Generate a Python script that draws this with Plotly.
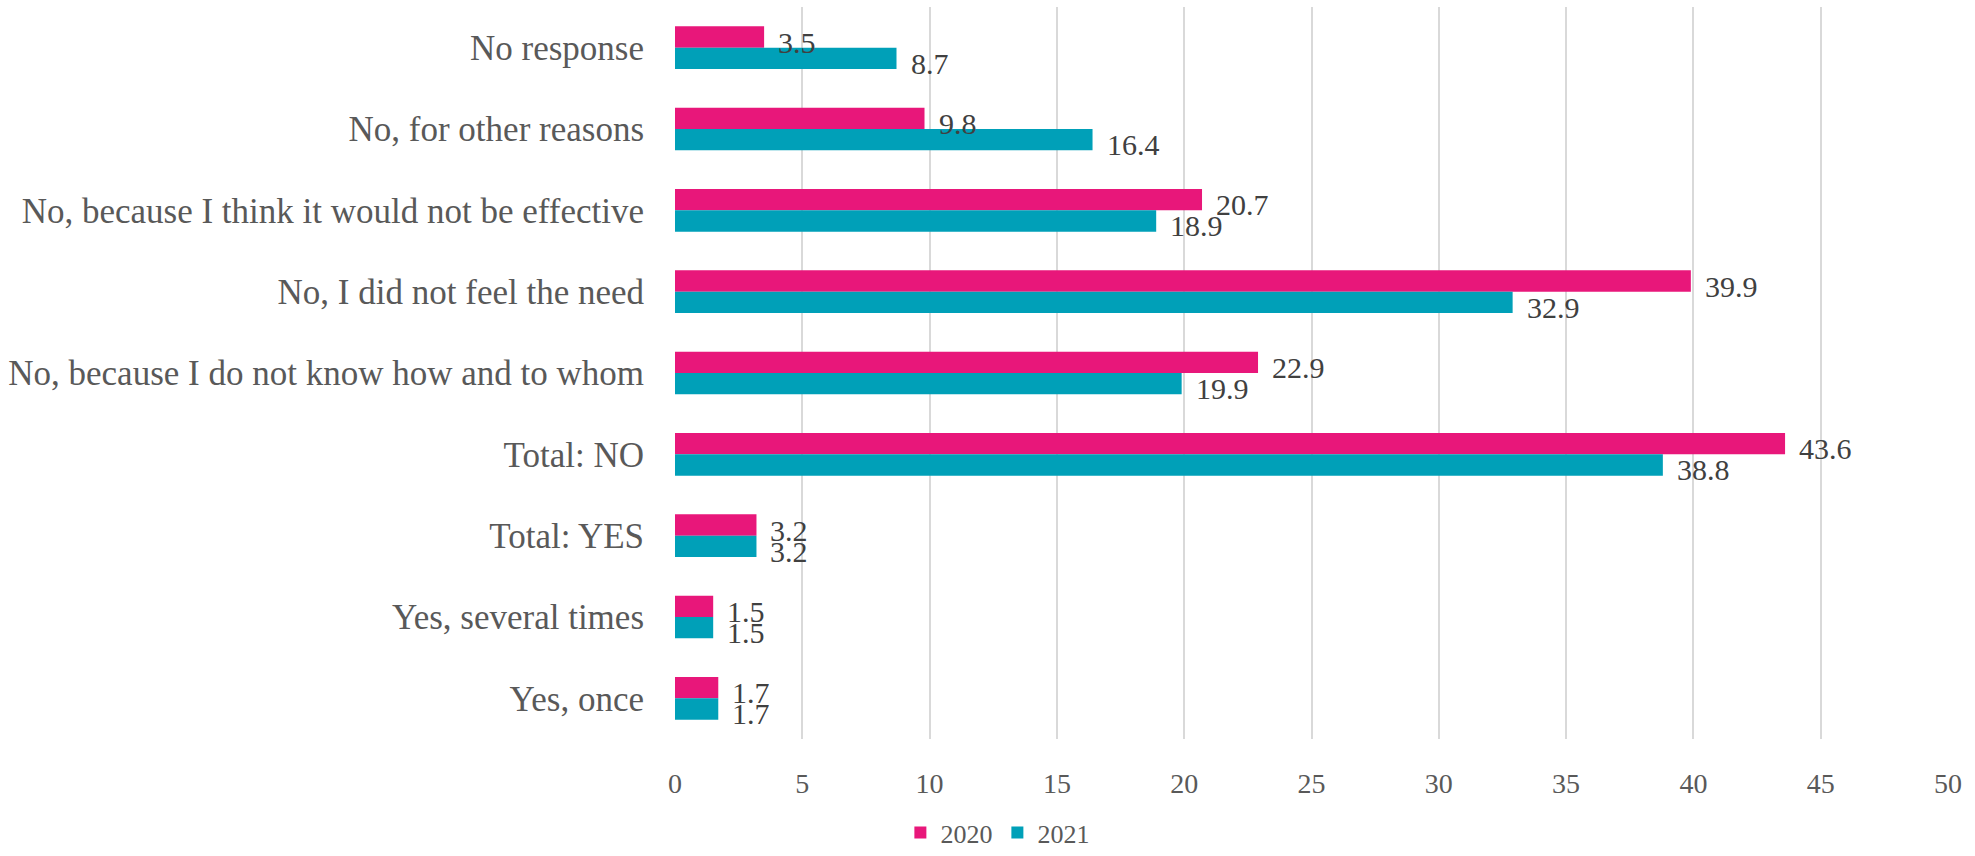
import plotly.graph_objects as go

# Survey answers, listed top to bottom as drawn
categories = [
    "No response",
    "No, for other reasons",
    "No, because I think it would not be effective",
    "No, I did not feel the need",
    "No, because I do not know how and to whom",
    "Total: NO",
    "Total: YES",
    "Yes, several times",
    "Yes, once",
]
values_2020 = [3.5, 9.8, 20.7, 39.9, 22.9, 43.6, 3.2, 1.5, 1.7]
values_2021 = [8.7, 16.4, 18.9, 32.9, 19.9, 38.8, 3.2, 1.5, 1.7]
series_names = ["2020", "2021"]
x_ticks = [0, 5, 10, 15, 20, 25, 30, 35, 40, 45, 50]

PINK = "#E8177A"
TEAL = "#00A0B8"
GRID = "#D9D9D9"
LABEL = "#595959"
VALUE = "#404040"
FONT = "Liberation Serif"

fig = go.Figure()
for name, vals, color in [(series_names[0], values_2020, PINK),
                          (series_names[1], values_2021, TEAL)]:
    fig.add_trace(go.Bar(
        name=name, y=categories, x=vals, orientation="h",
        marker=dict(color=color, line=dict(width=0)),
    ))

# value labels just past the end of each bar
BAR_PX = 21.3
for vals, dy in [(values_2020, BAR_PX / 2 - 5), (values_2021, -BAR_PX / 2 - 5)]:
    for cat, v in zip(categories, vals):
        fig.add_annotation(
            x=v, y=cat, text=f"{v:.1f}", showarrow=False,
            xanchor="left", yanchor="middle", xshift=12, yshift=dy,
            font=dict(family=FONT, size=30, color=VALUE),
        )

fig.update_layout(
    width=1975, height=856,
    margin=dict(l=675, r=27, t=7, b=117),
    paper_bgcolor="white", plot_bgcolor="white",
    barmode="group", bargap=0.476, bargroupgap=0,
    font=dict(family=FONT, color=LABEL),
    showlegend=True,
    legend=dict(
        orientation="h", xref="container", yref="container",
        x=0.505, xanchor="center", y=0.0, yanchor="bottom",
        font=dict(family=FONT, size=26, color=LABEL),
        itemwidth=30, traceorder="normal",
    ),
)
fig.update_xaxes(
    range=[0, 50], tickvals=x_ticks, showgrid=True, gridcolor=GRID, gridwidth=2,
    zeroline=False, showline=False, ticks="",
    tickfont=dict(family=FONT, size=28, color=LABEL),
    ticklabelstandoff=25,
)
fig.update_yaxes(
    categoryorder="array", categoryarray=categories, autorange="reversed",
    showgrid=False, zeroline=False, showline=False, ticks="",
    tickfont=dict(family=FONT, size=35, color=LABEL),
    ticklabelstandoff=30,
)

fig.write_html("out.html")
